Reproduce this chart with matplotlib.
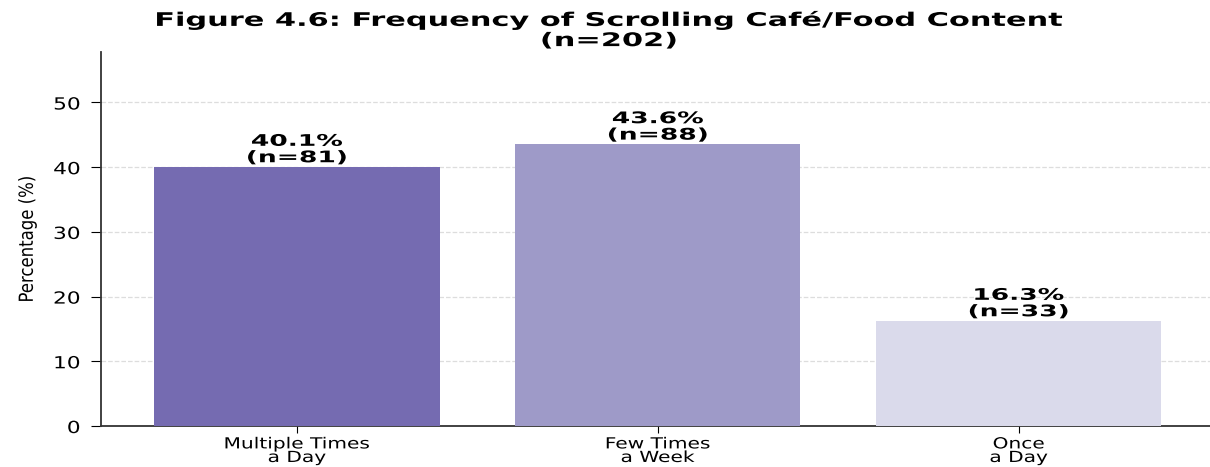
import matplotlib
matplotlib.use("Agg")
import matplotlib.pyplot as plt
from matplotlib.patheffects import AbstractPathEffect
from matplotlib.transforms import Affine2D

categories = ["Multiple Times\na Day", "Few Times\na Week", "Once\na Day"]
percentages = [40.1, 43.6, 16.3]
counts = [81, 88, 33]
total_n = 202
colors = ["#756bb1", "#9e9ac8", "#dadaeb"]


class Stretch(AbstractPathEffect):
    """Widen (or narrow) glyph runs along the text direction."""
    def __init__(self, sx=1.0, anchor="center"):
        super().__init__()
        self.sx = sx
        self.anchor = anchor

    def draw_path(self, renderer, gc, tpath, affine, rgbFace=None):
        ext = tpath.get_extents()
        if self.anchor == "center":
            cx = (ext.x0 + ext.x1) / 2
        elif self.anchor == "right":
            cx = ext.x1
        else:
            cx = ext.x0
        t = Affine2D().translate(-cx, 0).scale(self.sx, 1.0).translate(cx, 0) + affine
        renderer.draw_path(gc, tpath, t, rgbFace)


fig = plt.figure(figsize=(12.1, 4.67), dpi=100)
ax = fig.add_axes([101/1210, 1 - 426/467, 1 - 101/1210, (426 - 52)/467])

x = list(range(len(categories)))
bars = ax.bar(x, percentages, width=0.79, color=colors, zorder=3)

for b, p, n in zip(bars, percentages, counts):
    t = ax.text(b.get_x() + b.get_width()/2, b.get_height() + 0.2,
                f"{p}%\n(n={n})", ha="center", va="bottom",
                fontsize=11.5, fontweight="bold", linespacing=1.12, zorder=4)
    t.set_path_effects([Stretch(1.66)])

ax.set_xlim(-0.543, 2.53)
ax.set_ylim(0, 57.8)
ax.set_yticks([0, 10, 20, 30, 40, 50])
ax.set_xticks(x)
ax.set_xticklabels(categories, fontsize=11, linespacing=0.88)
ax.tick_params(axis="y", labelsize=12, length=7, pad=8)
ax.tick_params(axis="x", length=5, pad=2.5)
for lab in ax.get_xticklabels():
    lab.set_path_effects([Stretch(1.32)])
for lab in ax.get_yticklabels():
    lab.set_path_effects([Stretch(1.3, anchor="right")])

ylab = ax.set_ylabel("Percentage (%)", fontsize=14, labelpad=16)
ylab.set_path_effects([Stretch(0.85)])
ax.yaxis.grid(True, linestyle="--", color="#dddddd", linewidth=0.9, zorder=0)
ax.set_axisbelow(True)
for s in ["top", "right"]:
    ax.spines[s].set_visible(False)
for s in ["left", "bottom"]:
    ax.spines[s].set_color("#333333")
    ax.spines[s].set_linewidth(1.3)

title = fig.text(609/1210, 1 - 30/467,
                 f"Figure 4.6: Frequency of Scrolling Café/Food Content\n(n={total_n})",
                 ha="center", va="center", fontsize=13.5, fontweight="bold",
                 linespacing=1.08)
title.set_path_effects([Stretch(1.62)])

fig.savefig("out.png", dpi=100)
